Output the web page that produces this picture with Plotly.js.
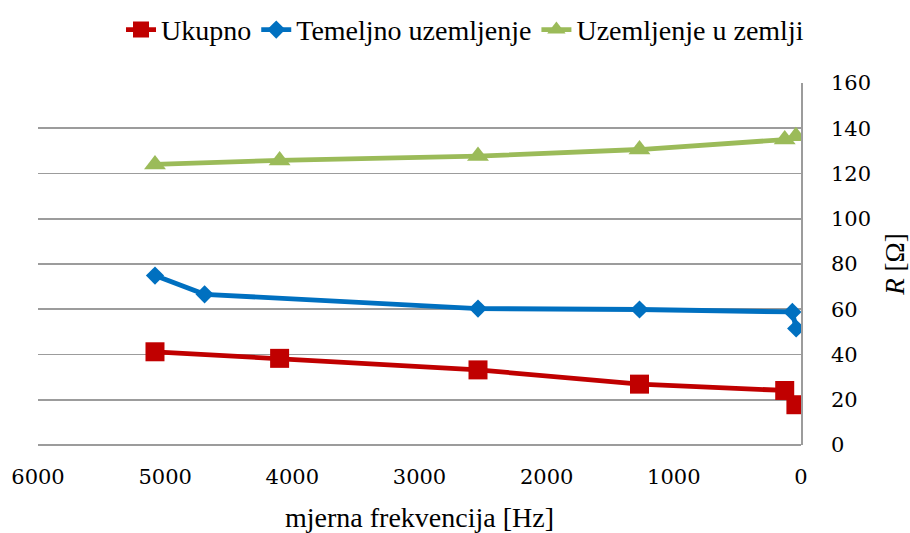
<!DOCTYPE html>
<html>
<head>
<meta charset="utf-8">
<script src="https://cdn.plot.ly/plotly-3.0.1.min.js"></script>
<style>
html,body{margin:0;padding:0;background:#fff;}
#chart{width:910px;height:533px;}
</style>
</head>
<body>
<div id="chart"></div>
<script>
// Data
const seriesNames = ["Ukupno", "Temeljno uzemljenje", "Uzemljenje u zemlji"];
const freqUkupno = [5080, 4100, 2540, 1270, 128, 40];
const valUkupno = [41.2, 38.3, 33.2, 26.9, 24.1, 17.8];
const freqTemeljno = [5080, 4690, 2540, 1270, 68, 38];
const valTemeljno = [74.9, 66.6, 60.3, 59.9, 58.8, 51.5];
const freqZemlja = [5080, 4100, 2540, 1270, 128, 40];
const valZemlja = [124.0, 125.8, 127.7, 130.6, 135.0, 136.5];
const xTicks = [6000, 5000, 4000, 3000, 2000, 1000, 0];
const yTicks = [0, 20, 40, 60, 80, 100, 120, 140, 160];

const FONT = 'Tinos';
const TICKFONT = 'DejaVu Serif';

const traces = [
  {x: freqUkupno, y: valUkupno, name: seriesNames[0], mode: 'lines+markers',
   line: {color: '#C00000', width: 4.8}, marker: {symbol: 'square', size: 19, color: '#C00000'}},
  {x: freqTemeljno, y: valTemeljno, name: seriesNames[1], mode: 'lines+markers',
   line: {color: '#0070C0', width: 4.8}, marker: {symbol: 'diamond', size: 14, color: '#0070C0'}},
  {x: freqZemlja, y: valZemlja, name: seriesNames[2], mode: 'lines+markers',
   line: {color: '#9BBB59', width: 4.8}, marker: {symbol: 'triangle-up', size: 19, color: '#9BBB59'}}
];

const layout = {
  width: 910, height: 533,
  margin: {l: 38, r: 109, t: 82.5, b: 87.5},
  paper_bgcolor: '#fff', plot_bgcolor: '#fff',
  font: {family: FONT, size: 27, color: '#000'},
  showlegend: true,
  legend: {orientation: 'h', xref: 'container', yref: 'container', x: 0.511, xanchor: 'center',
           y: 0.944, yanchor: 'middle', font: {family: FONT, size: 28, color: '#000'},
           tracegroupgap: 0},
  xaxis: {range: [6000, 0], tickvals: xTicks, ticktext: xTicks.map(String), showgrid: false,
          zeroline: false, showline: false, ticks: '', ticklabelstandoff: 17,
          tickfont: {family: TICKFONT, size: 21, color: '#000'},
          title: {text: 'mjerna frekvencija [Hz]', font: {family: FONT, size: 28, color: '#000'}, standoff: 20}},
  yaxis: {range: [0, 160], side: 'right', tickvals: yTicks, ticktext: yTicks.map(String),
          showgrid: true, gridcolor: '#9C9C9C', gridwidth: 1.8, zeroline: true, zerolinecolor: '#9C9C9C', zerolinewidth: 1.8,
          showline: true, linecolor: '#9C9C9C', linewidth: 1.8, ticks: '', ticklabelstandoff: 24,
          tickfont: {family: TICKFONT, size: 21, color: '#000'},
          title: {text: '<i>R</i> [Ω]', font: {family: FONT, size: 27, color: '#000'}, standoff: 17}}
};

Plotly.newPlot('chart', traces, layout, {displayModeBar: false, staticPlot: true});
</script>
</body>
</html>
